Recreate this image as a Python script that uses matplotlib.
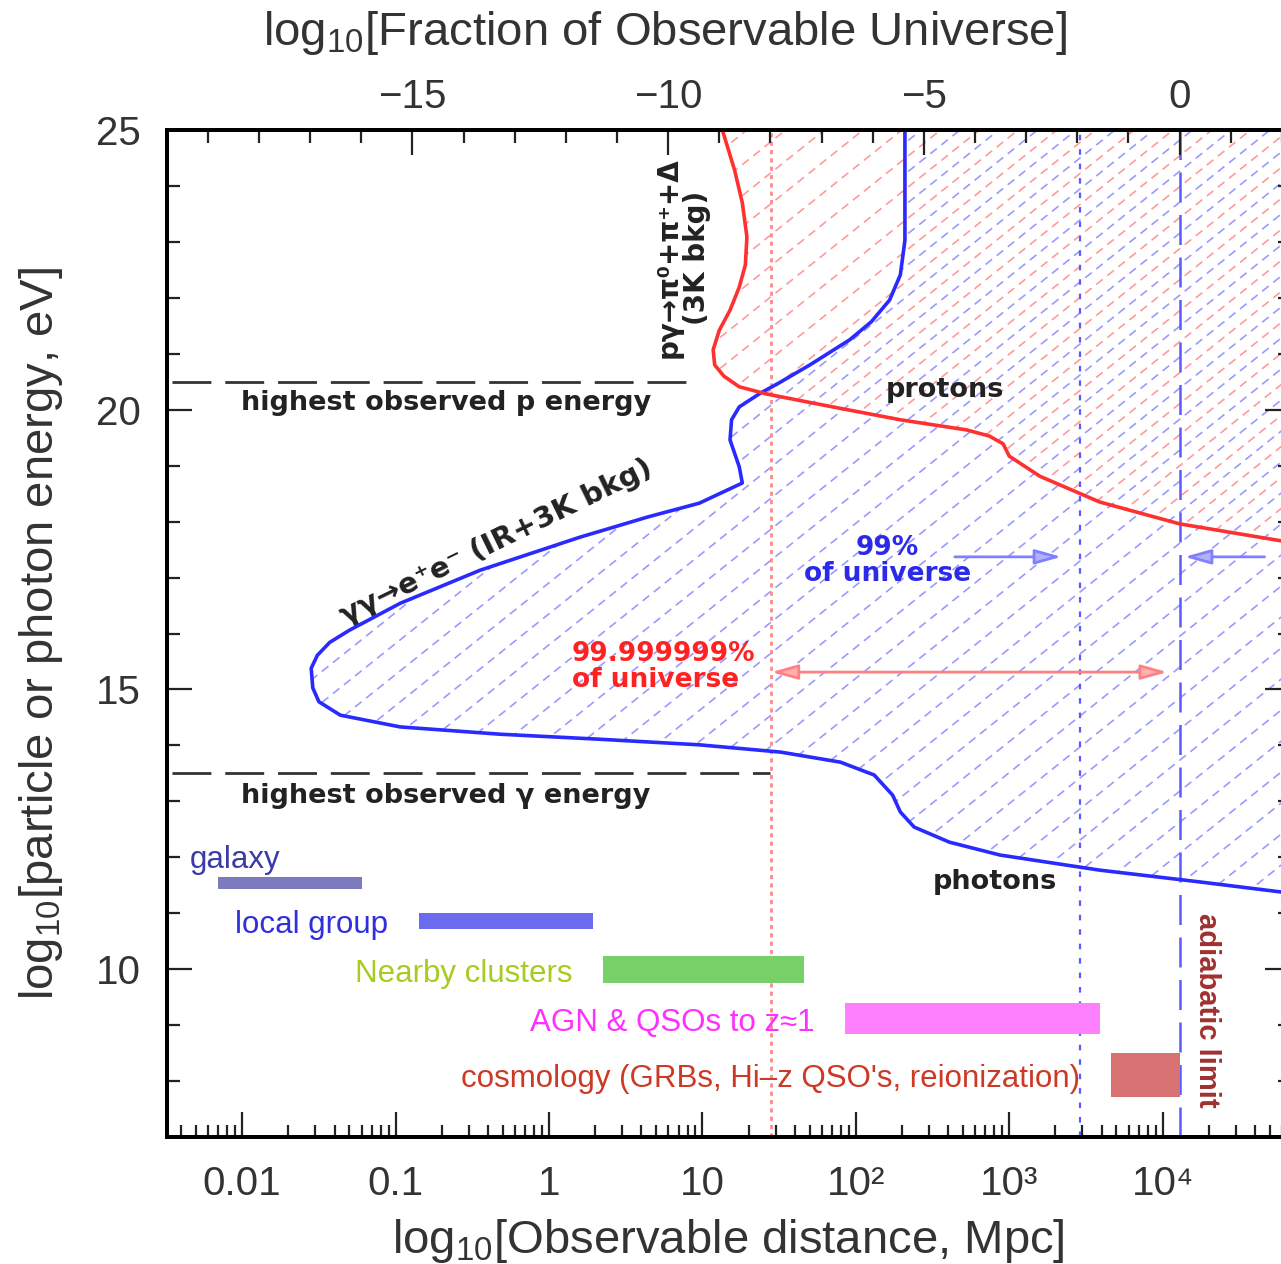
import numpy as np
import matplotlib
matplotlib.use("Agg")
import matplotlib.pyplot as plt
from matplotlib.patches import Polygon
from matplotlib.collections import LineCollection
from matplotlib.ticker import MultipleLocator, LogLocator, NullFormatter, FixedLocator

plt.rcParams.update({
    "font.family": ["Liberation Sans", "DejaVu Sans"],
    "mathtext.fontset": "custom",
    "mathtext.rm": "Liberation Sans",
    "mathtext.it": "Liberation Sans",
})

# ---- data (log10 distance in Mpc, log10 energy in eV) ----
gamma_logd = [2.32, 2.32, 2.32, 2.29, 2.22, 2.10, 1.96, 1.70, 1.50, 1.38, 1.24,
              1.19, 1.18, 1.24, 1.26, 0.98, 0.64, 0.20, -0.45, -0.97, -1.30,
              -1.43, -1.51, -1.55, -1.54, -1.50, -1.36, -0.97, -0.32, 0.33, 0.98,
              1.51, 1.90, 2.12, 2.24, 2.29, 2.38, 2.61, 2.94, 3.59, 4.24, 4.83]
gamma_E = [25.0, 23.75, 23.03, 22.41, 21.96, 21.57, 21.25, 20.80, 20.48, 20.30,
           20.05, 19.82, 19.46, 18.98, 18.69, 18.33, 18.08, 17.72, 17.13, 16.54,
           16.06, 15.84, 15.61, 15.38, 15.03, 14.78, 14.54, 14.33, 14.20, 14.11,
           14.01, 13.88, 13.70, 13.47, 13.11, 12.81, 12.54, 12.27, 12.04, 11.77,
           11.56, 11.36]

proton_logd = [1.13, 1.21, 1.26, 1.29, 1.28, 1.24, 1.18, 1.11, 1.07, 1.08, 1.14,
               1.24, 1.42, 1.85, 2.29, 2.72, 2.87, 2.96, 3.00, 3.20, 3.59, 4.11, 4.83]
proton_E = [25.0, 24.28, 23.70, 23.09, 22.59, 22.19, 21.78, 21.42, 21.07, 20.80,
            20.60, 20.41, 20.28, 20.05, 19.82, 19.64, 19.53, 19.39, 19.17, 18.81,
            18.35, 17.96, 17.63]

bar_names = ["galaxy", "local group", "Nearby clusters", "AGN & QSOs to z\u22481",
             "cosmology (GRBs, Hi\u2013z QSO's, reionization)"]
bar_lo = [-2.16, -0.85, 0.35, 1.93, 3.66]      # log10 Mpc
bar_hi = [-1.22, 0.29, 1.66, 3.59, 4.11]
bar_E = [11.54, 10.86, 9.99, 9.12, 8.11]
bar_h = [0.21, 0.30, 0.48, 0.55, 0.79]
bar_colors = ["#7b7bbd", "#6b6bef", "#78d068", "#ff80ff", "#d87272"]
label_colors = ["#3a3aa8", "#2f2fe0", "#a6cc22", "#ff30ff", "#cc3a26"]

p_max_E, g_max_E = 20.5, 13.5
p_line_end, g_line_end = 0.92, 1.44
red_line_logd = 1.45      # 99.999999 % of universe
blue_dot_logd = 3.46      # 99 % of universe
horizon_logd = 4.11       # fraction = 1

XMIN, XMAX = -2.49, 4.83

fig = plt.figure(figsize=(12.81, 12.64), dpi=100)
ax = fig.add_axes([167 / 1281, 1 - 1137 / 1264, (1290 - 167) / 1281, 1007 / 1264])
ax.set_xscale("log")
ax.set_xlim(10 ** XMIN, 10 ** XMAX)
ax.set_ylim(7, 25)


def hatch(xs, ys, color, offset):
    patch = Polygon(np.column_stack([xs, ys]), closed=True, transform=ax.transData,
                    fill=False, edgecolor="none")
    ax.add_patch(patch)
    W, H = 1123.0, 1007.0
    slope, step = 0.80, 31.0
    segs = []
    for c in np.arange(-slope * W + offset, H, step):
        segs.append([(0, c / H), (1, (c + slope * W) / H)])
    lc = LineCollection(segs, transform=ax.transAxes, colors=color,
                        linewidths=1.2, linestyles=[(0, (5, 3.5))], zorder=1)
    ax.add_collection(lc, autolim=False)
    lc.set_clip_path(patch)


gx = 10 ** np.array(gamma_logd)
px = 10 ** np.array(proton_logd)
hatch(np.r_[gx, 1e6, 1e6], np.r_[gamma_E, gamma_E[-1], 26], "#9a9aff", 0)
hatch(np.r_[px, 1e6, 1e6], np.r_[proton_E, proton_E[-1], 26], "#ff9a9a", 15.5)

ax.plot(gx, gamma_E, color="#2a2aff", lw=2.6, zorder=4, solid_joinstyle="round")
ax.plot(px, proton_E, color="#ff3030", lw=2.6, zorder=4, solid_joinstyle="round")

# vertical reference lines
ax.axvline(10 ** red_line_logd, color="#ff8a8a", lw=2.0, ls=(0, (1.5, 1.5)), zorder=2)
ax.axvline(10 ** blue_dot_logd, color="#5a5aff", lw=1.6, ls=(0, (2.5, 4)), zorder=2)
ax.axvline(10 ** horizon_logd, color="#5a5aff", lw=1.8, ls=(0, (12, 5)), zorder=2)

# highest observed energies
ax.plot([10 ** XMIN * 1.08, 10 ** p_line_end], [p_max_E] * 2, color="#333333",
        lw=2.0, ls=(0, (14, 5)))
ax.plot([10 ** XMIN * 1.08, 10 ** g_line_end], [g_max_E] * 2, color="#333333",
        lw=2.0, ls=(0, (14, 5)))
inner = dict(family="DejaVu Sans", fontweight="bold", fontsize=19.5, color="#222222")
ax.text(10 ** -2.01, 20.12, "highest observed p energy", ha="left", va="center", **inner)
ax.text(10 ** -2.01, 13.09, "highest observed \u03b3 energy", ha="left", va="center", **inner)
ax.text(10 ** 2.58, 20.35, "protons", ha="center", va="center", **inner)
ax.text(10 ** 2.906, 11.56, "photons", ha="center", va="center", **inner)
ax.text(10 ** -0.34, 17.64, "\u03b3\u03b3\u2192e\u207ae\u207b (IR+3K bkg)", rotation=26,
        ha="center", va="center", rotation_mode="anchor",
        **dict(inner, fontsize=21))
ax.text(10 ** 0.873, 22.71, "p\u03b3\u2192\u03c0\u2070+\u03c0\u207a+\u0394\n(3K bkg)",
        rotation=90, ha="center", va="center", multialignment="center",
        linespacing=1.0, **dict(inner, fontsize=20))

# universe fractions
ax.text(10 ** 0.15, 15.40, "99.999999%\nof universe", color="#ff2222", ha="left",
        va="center", family="DejaVu Sans", fontweight="bold", fontsize=19, linespacing=1.0)
ax.text(10 ** 2.208, 17.30, "99%\nof universe", color="#2a2ae8", ha="center",
        va="center", family="DejaVu Sans", fontweight="bold", fontsize=19, linespacing=1.0)
ax.annotate("", xy=(10 ** 4.03, 15.31), xytext=(10 ** red_line_logd, 15.31),
            arrowprops=dict(arrowstyle="<|-|>,head_length=1.6,head_width=0.45",
                            color="#ff8080", fc="#ffb0b0", lw=2.0, shrinkA=0, shrinkB=0))
ax.annotate("", xy=(10 ** 3.34, 17.37), xytext=(10 ** 2.645, 17.37),
            arrowprops=dict(arrowstyle="-|>,head_length=1.6,head_width=0.45",
                            color="#8080ff", fc="#b0b0ff", lw=2.0, shrinkA=0, shrinkB=0))
ax.annotate("", xy=(10 ** 4.143, 17.37), xytext=(10 ** 4.664, 17.37),
            arrowprops=dict(arrowstyle="-|>,head_length=1.6,head_width=0.45",
                            color="#8080ff", fc="#b0b0ff", lw=2.0, shrinkA=0, shrinkB=0))
ax.text(10 ** 4.287, 9.27, "adiabatic limit", rotation=270, color="#a03030",
        ha="center", va="center", fontsize=21, fontweight="bold")

# structure scale bars
lo = 10 ** np.array(bar_lo)
hi = 10 ** np.array(bar_hi)
ax.barh(bar_E, hi - lo, left=lo, height=bar_h, color=bar_colors, zorder=3)
for i, name in enumerate(bar_names):
    if i == 0:
        ax.text(10 ** -2.34, 11.95, name, color=label_colors[i], fontsize=22.5,
                ha="left", va="center")
    else:
        ax.annotate(name, (lo[i], bar_E[i]), xytext=(-22, -3), textcoords="offset points",
                    color=label_colors[i], fontsize=22.5, ha="right", va="center")

# axes styling
for s in ax.spines.values():
    s.set_linewidth(2.8)
ax.set_xticks([1e-2, 1e-1, 1, 10, 1e2, 1e3, 1e4])
ax.set_xticklabels(["0.01", "0.1", "1", "10", "10\u00b2", "10\u00b3", "10\u2074"])
ax.xaxis.set_minor_locator(LogLocator(base=10, subs=np.arange(2, 10)))
ax.xaxis.set_minor_formatter(NullFormatter())
ax.yaxis.set_major_locator(FixedLocator([10, 15, 20, 25]))
ax.yaxis.set_minor_locator(MultipleLocator(1))
ax.tick_params(which="both", direction="in", top=False, right=True, width=1.6,
               colors="#222222", labelcolor="#333333", labelsize=29)
ax.tick_params(which="major", length=18)
ax.tick_params(which="minor", length=9)
ax.tick_params(axis="x", which="major", pad=20)
ax.tick_params(axis="y", which="major", pad=19)

ax.set_xlabel("log$_{10}$[Observable distance, Mpc]", fontsize=34, color="#333333",
              labelpad=10)
ax.set_ylabel("log$_{10}$[particle or photon energy, eV]", fontsize=34, color="#333333",
              labelpad=22)

# top axis: log10 of the fraction of the observable universe (volume ~ d^3)
top = ax.twiny()
top.set_xlim(3 * (XMIN - horizon_logd), 3 * (XMAX - horizon_logd))
top.set_xticks([-15, -10, -5, 0])
top.xaxis.set_minor_locator(MultipleLocator(1))
for s in top.spines.values():
    s.set_linewidth(2.8)
top.tick_params(axis="x", which="both", direction="in", top=True, bottom=False,
                labeltop=True, labelbottom=False, width=1.6, colors="#222222",
                labelcolor="#333333", labelsize=29)
top.tick_params(axis="x", which="major", length=18, pad=10)
top.tick_params(axis="x", which="minor", length=9)
fig.text(665 / 1281, 1 - 33 / 1264, "log$_{10}$[Fraction of Observable Universe]",
         fontsize=34, color="#333333", ha="center", va="center")

fig.savefig("out.png", dpi=100, facecolor="white")
